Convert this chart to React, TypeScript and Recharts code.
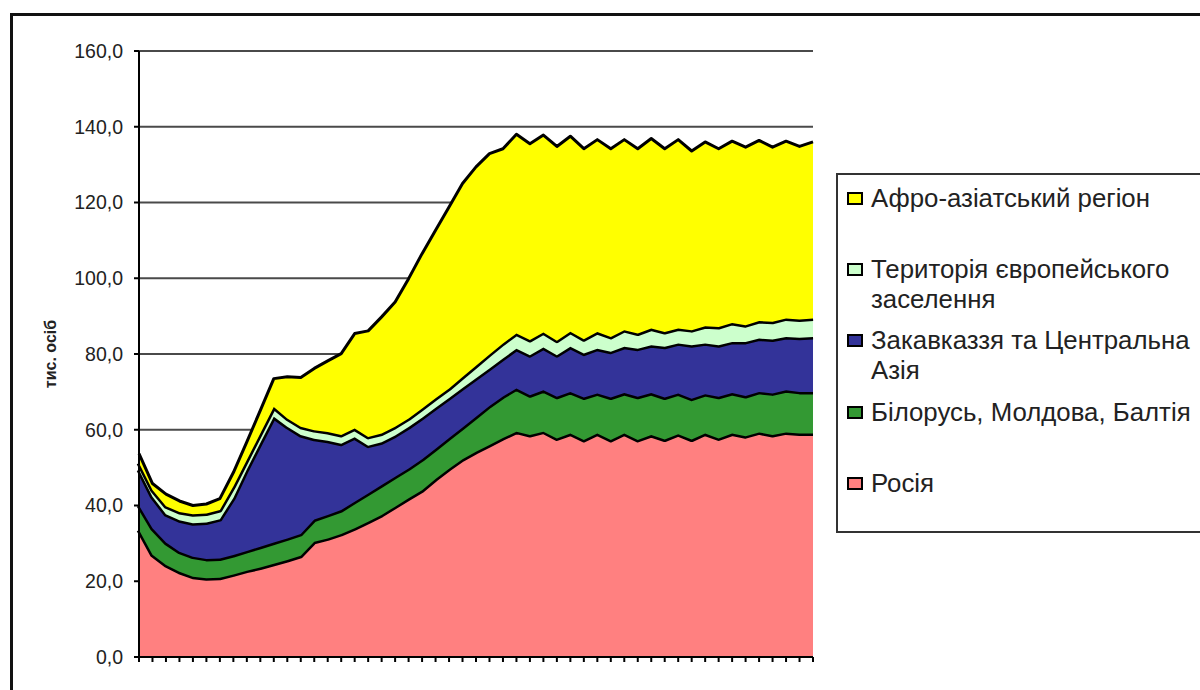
import React from "react";
import {
  Area,
  AreaChart,
  CartesianGrid,
  Legend,
  XAxis,
  YAxis,
} from "recharts";

// Періоди (підписи осі X на оригіналі не показані)
const periods = [
  "1", "2", "3", "4", "5", "6", "7", "8", "9", "10",
  "11", "12", "13", "14", "15", "16", "17", "18", "19", "20",
  "21", "22", "23", "24", "25", "26", "27", "28", "29", "30",
  "31", "32", "33", "34", "35", "36", "37", "38", "39", "40",
  "41", "42", "43", "44", "45", "46", "47", "48", "49", "50",
  "51",
];

// тис. осіб
const russia = [
  33.5, 27.0, 24.3, 22.5, 21.2, 20.8, 20.9, 21.8, 22.8, 23.6,
  24.6, 25.6, 26.7, 30.4, 31.3, 32.5, 34.0, 35.7, 37.5, 39.7,
  41.9, 44.0, 47.0, 49.7, 52.2, 54.2, 56.0, 57.8, 59.5, 58.6,
  59.5, 57.7, 59.0, 57.3, 59.0, 57.3, 59.0, 57.3, 58.6, 57.4,
  58.8, 57.4, 59.0, 57.7, 59.0, 58.3, 59.3, 58.6, 59.3, 59.0,
  59.0,
];

const belarusMoldovaBaltic = [
  6.5, 7.0, 5.9, 5.3, 5.3, 5.1, 5.1, 5.1, 5.2, 5.5,
  5.6, 5.7, 5.8, 5.9, 6.2, 6.3, 7.0, 7.5, 7.9, 7.9,
  7.9, 8.2, 8.0, 8.1, 8.4, 9.2, 10.3, 11.0, 11.4, 10.5,
  10.9, 11.0, 11.0, 11.2, 10.6, 11.2, 10.7, 11.4, 11.1, 11.1,
  10.8, 10.8, 10.4, 11.0, 10.7, 10.6, 10.7, 11.0, 11.1, 11.0,
  11.0,
];

const caucasusCentralAsia = [
  9.4, 8.3, 7.5, 8.3, 8.8, 9.6, 10.4, 15.1, 21.5, 27.4,
  33.2, 29.5, 26.1, 21.3, 19.6, 17.5, 17.0, 12.6, 11.3, 10.9,
  10.9, 11.0, 10.8, 10.6, 10.4, 10.2, 9.9, 10.0, 10.5, 10.6,
  11.3, 11.0, 11.9, 11.6, 11.8, 12.1, 12.2, 12.7, 12.6, 13.4,
  13.2, 14.1, 13.4, 13.6, 13.5, 14.3, 14.1, 14.2, 14.1, 14.3,
  14.5,
];

const europeanSettlement = [
  1.8, 1.8, 2.1, 2.2, 2.4, 2.4, 2.4, 3.0, 2.5, 2.5,
  2.6, 2.2, 2.2, 2.3, 2.3, 2.3, 2.3, 2.3, 2.3, 2.3,
  2.3, 2.4, 2.5, 2.5, 2.9, 3.3, 3.7, 4.0, 4.0, 4.0,
  4.0, 3.8, 4.0, 3.8, 4.4, 3.9, 4.4, 4.0, 4.4, 3.9,
  3.9, 4.0, 4.5, 4.8, 5.0, 4.4, 4.6, 4.7, 4.9, 4.8,
  4.9,
];

const afroAsian = [
  2.5, 1.7, 3.2, 2.9, 2.3, 2.5, 3.0, 3.7, 4.8, 6.1,
  7.5, 11.0, 13.0, 16.3, 18.8, 21.5, 25.1, 28.0, 30.8, 32.9,
  36.9, 40.9, 44.4, 47.9, 51.1, 52.5, 53.0, 51.4, 52.6, 51.8,
  52.1, 51.3, 51.6, 50.3, 50.8, 49.7, 50.3, 48.8, 50.2, 48.4,
  49.9, 47.3, 48.7, 47.1, 48.0, 47.0, 47.7, 46.1, 46.8, 45.7,
  46.6,
];

const yTicks = [0, 20, 40, 60, 80, 100, 120, 140, 160];

// знизу вгору, як у стосі
const series = [
  { key: "russia", name: "Росія", fill: "#FF8080", values: russia },
  { key: "belarus", name: "Білорусь, Молдова, Балтія", fill: "#339933", values: belarusMoldovaBaltic },
  { key: "caucasus", name: "Закавказзя та Центральна Азія", fill: "#333399", values: caucasusCentralAsia },
  { key: "europe", name: "Територія європейського заселення", fill: "#CCFFCC", values: europeanSettlement },
  { key: "afro", name: "Афро-азіатський регіон", fill: "#FFFF00", values: afroAsian },
];

const data = periods.map((period, i) => {
  const row: Record<string, string | number> = { period };
  series.forEach((s) => {
    row[s.key] = s.values[i];
  });
  return row;
});

const FONT = '"Liberation Sans", Arial, sans-serif';

function LegendBox() {
  const items = [...series].reverse();
  return (
    <div
      style={{
        width: 420,
        height: 360,
        border: "2px solid #333",
        background: "#fff",
        boxSizing: "border-box",
        display: "flex",
        flexDirection: "column",
        fontFamily: FONT,
      }}
    >
      {items.map((s) => (
        <div
          key={s.key}
          style={{
            flex: 1,
            display: "flex",
            alignItems: "flex-start",
            paddingTop: 8,
            paddingLeft: 9,
          }}
        >
          <span
            style={{
              display: "inline-block",
              width: 16,
              height: 13,
              marginTop: 9,
              marginRight: 8,
              background: s.fill,
              border: "2px solid #000",
              boxSizing: "border-box",
              flexShrink: 0,
            }}
          />
          <span
            style={{
              width: 340,
              fontSize: 25.8,
              lineHeight: "30px",
              color: "#222",
            }}
          >
            {s.name}
          </span>
        </div>
      ))}
    </div>
  );
}

export default function App() {
  return (
    <div
      style={{
        position: "fixed",
        left: 0,
        top: 0,
        width: 1200,
        height: 690,
        overflow: "hidden",
        background: "#fff",
      }}
    >
      <div
        style={{
          position: "absolute",
          left: 10,
          top: 13,
          width: 1300,
          height: 800,
          border: "3px solid #111",
        }}
      />
      <div style={{ position: "absolute", left: 0, top: 0 }}>
        <AreaChart
          width={1200}
          height={690}
          data={data}
          margin={{ top: 51, right: 387, bottom: 21, left: 39 }}
        >
          <CartesianGrid vertical={false} stroke="#4a4a4a" strokeWidth={2} />
          <XAxis
            dataKey="period"
            interval={0}
            tick={() => <g />}
            tickSize={5}
            height={12}
            axisLine={{ stroke: "#000", strokeWidth: 2 }}
            tickLine={{ stroke: "#000", strokeWidth: 2 }}
          />
          <YAxis
            domain={[0, 160]}
            ticks={yTicks}
            width={100}
            tickSize={5}
            tickMargin={11}
            tickFormatter={(v: number) => v.toFixed(1).replace(".", ",")}
            tick={{ fill: "#222", fontSize: 19.5, fontFamily: FONT }}
            axisLine={{ stroke: "#000", strokeWidth: 2 }}
            tickLine={{ stroke: "#000", strokeWidth: 2 }}
            label={{
              value: "тис. осіб",
              angle: -90,
              position: "insideLeft",
              offset: 11,
              style: {
                textAnchor: "middle",
                fontWeight: "bold",
                fontSize: 16,
                fill: "#222",
                fontFamily: FONT,
              },
            }}
          />
          <YAxis
            yAxisId="frame"
            orientation="right"
            width={0}
            tick={false}
            tickLine={false}
            axisLine={{ stroke: "#555", strokeWidth: 2 }}
          />
          {series.map((s, i) => (
            <Area
              key={s.key}
              type="linear"
              dataKey={s.key}
              name={s.name}
              stackId="1"
              fill={s.fill}
              fillOpacity={1}
              stroke="#000"
              strokeWidth={i === series.length - 1 ? 3 : 5}
              strokeLinejoin="round"
              isAnimationActive={false}
            />
          ))}
          <Legend
            layout="vertical"
            align="center"
            verticalAlign="middle"
            content={() => <LegendBox />}
            wrapperStyle={{ position: "absolute", left: 836, top: 173, width: 420 }}
          />
        </AreaChart>
      </div>
    </div>
  );
}
